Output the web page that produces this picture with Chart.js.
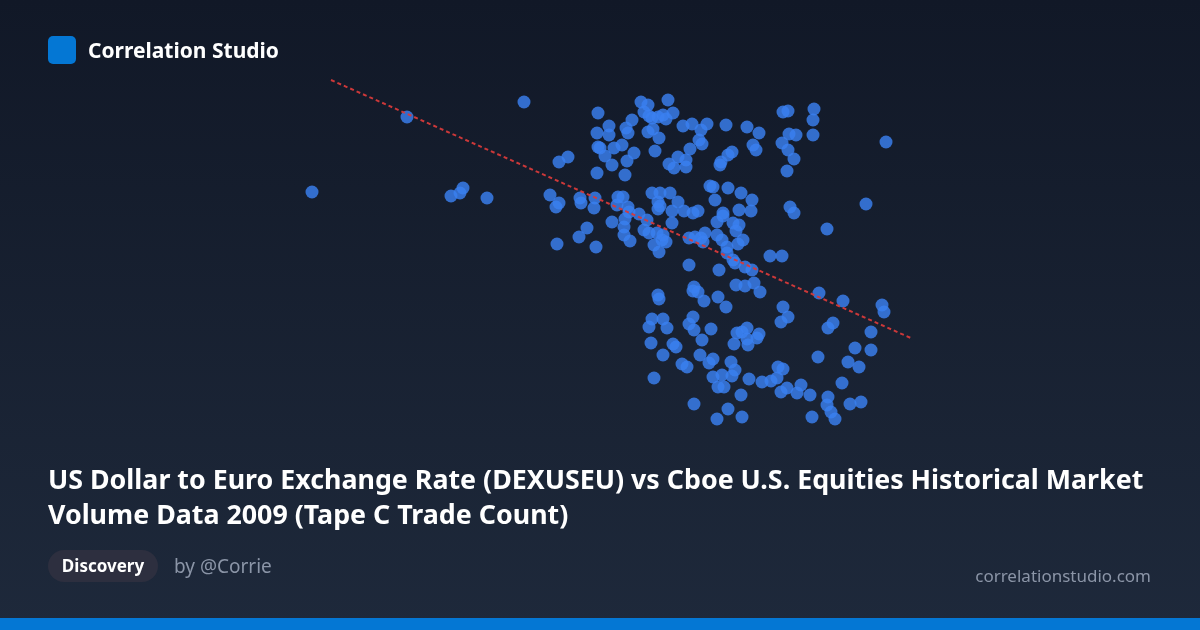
<!DOCTYPE html>
<html>
<head>
<meta charset="utf-8">
<script src="https://cdn.jsdelivr.net/npm/chart.js@4.4.1/dist/chart.umd.min.js"></script>
<style>
  html, body { margin: 0; padding: 0; }
  body {
    width: 1200px; height: 630px; overflow: hidden; position: relative;
    background: linear-gradient(180deg, #111827 0%, #1e293b 100%);
    font-family: "Noto Sans", "Open Sans", sans-serif;
  }
  #chart { position: absolute; left: 0; top: 0; }
  .logo { position: absolute; left: 48px; top: 36px; width: 28px; height: 28px; border-radius: 5px; background: #0477d4; }
  .brand { position: absolute; left: 88px; top: 36px; line-height: 28px; font-size: 21px; font-weight: 700; color: #fff; }
  .title { position: absolute; left: 48px; top: 461px; width: 1130px; font-size: 26.8px; line-height: 35px; font-weight: 700; color: #fff; }
  .pill { position: absolute; left: 48px; top: 550px; width: 110px; height: 32px; border-radius: 16px; background: #2d2f3f;
          color: #fff; font-size: 17px; font-weight: 700; line-height: 32px; text-align: center; }
  .by { position: absolute; left: 174px; top: 550px; line-height: 32px; font-size: 19px; color: #8b95a7; }
  .site { position: absolute; right: 49px; top: 562px; line-height: 28px; font-size: 17px; color: #8b95a7; }
  .bar { position: absolute; left: 0; bottom: 0; width: 1200px; height: 12px; background: #0477d4; }
</style>
</head>
<body>
<canvas id="chart" width="1200" height="630"></canvas>
<div class="logo"></div>
<div class="brand">Correlation Studio</div>
<div class="title">US Dollar to Euro Exchange Rate (DEXUSEU) vs Cboe U.S. Equities Historical Market Volume Data 2009 (Tape C Trade Count)</div>
<div class="pill">Discovery</div>
<div class="by">by @Corrie</div>
<div class="site">correlationstudio.com</div>
<div class="bar"></div>
<script>
// DEXUSEU daily rate (x) vs Tape C trade count, millions (y)
const rates = [
  1.256, 1.3035, 1.362, 1.3255, 1.330, 1.3315, 1.3435, 1.375, 1.3795, 1.384,
  1.3795, 1.378, 1.390, 1.3905, 1.3975, 1.397, 1.3935, 1.3895, 1.3785, 1.398,
  1.399, 1.3985, 1.399, 1.3985, 1.4205, 1.424, 1.434, 1.422, 1.4245, 1.426,
  1.429, 1.4315, 1.433, 1.4365, 1.4045, 1.4045, 1.413, 1.414, 1.416, 1.424,
  1.4265, 1.4295, 1.4415, 1.446, 1.4535, 1.463, 1.4505, 1.4495, 1.451, 1.400,
  1.407, 1.411, 1.4025, 1.406, 1.4135, 1.417, 1.4275, 1.445, 1.439, 1.443,
  1.443, 1.4345, 1.437, 1.4125, 1.460, 1.4605, 1.464, 1.455, 1.4565, 1.464,
  1.409, 1.4115, 1.426, 1.430, 1.435, 1.4735, 1.4795, 1.4765, 1.478, 1.466,
  1.4915, 1.494, 1.507, 1.5065, 1.5065, 1.4945, 1.498, 1.491, 1.494, 1.497,
  1.4935, 1.543, 1.4705, 1.4575, 1.476, 1.4085, 1.414, 1.4145, 1.4195, 1.4235,
  1.429, 1.430, 1.429, 1.439, 1.436, 1.442, 1.4465, 1.449, 1.4615, 1.4615,
  1.4585, 1.4125, 1.412, 1.406, 1.412, 1.415, 1.422, 1.4245, 1.4285, 1.4315,
  1.431, 1.433, 1.427, 1.4295, 1.436, 1.4445, 1.4475, 1.4505, 1.4525, 1.4515,
  1.4585, 1.461, 1.4635, 1.4635, 1.4445, 1.4595, 1.4755, 1.4695, 1.4665, 1.4695,
  1.468, 1.495, 1.497, 1.533, 1.5135, 1.4715, 1.469, 1.4665, 1.4675, 1.485,
  1.491, 1.4725, 1.476, 1.447, 1.4465, 1.449, 1.452, 1.459, 1.463, 1.468,
  1.4725, 1.477, 1.480, 1.429, 1.4295, 1.426, 1.4315, 1.4245, 1.4335, 1.4465,
  1.4445, 1.447, 1.4555, 1.451, 1.4255, 1.4365, 1.438, 1.4685, 1.471, 1.4735,
  1.4795, 1.4785, 1.467, 1.4735, 1.474, 1.5095, 1.5215, 1.541, 1.542, 1.4915,
  1.494, 1.4905, 1.5165, 1.514, 1.5355, 1.5275, 1.5355, 1.4315, 1.441, 1.4435,
  1.450, 1.4565, 1.4545, 1.4655, 1.4675, 1.466, 1.4565, 1.461, 1.459, 1.462,
  1.4705, 1.4745, 1.481, 1.4855, 1.4885, 1.489, 1.427, 1.447, 1.464, 1.4585,
  1.471, 1.509, 1.524, 1.5295, 1.4915, 1.4935, 1.4905, 1.5005, 1.4985, 1.505,
  1.521, 1.514, 1.5135, 1.5155, 1.5175, 1.506, 1.5305, 1.525
];
const tradeCounts = [
  4.58, 5.33, 5.48, 4.54, 4.57, 4.62, 4.52, 4.55, 4.88, 4.93,
  4.47, 4.43, 4.52, 4.47, 4.52, 4.42, 4.22, 4.13, 4.06, 4.03,
  5.37, 5.17, 5.03, 4.77, 5.48, 5.45, 5.50, 5.38, 5.34, 5.32,
  5.33, 5.35, 5.31, 5.37, 5.24, 5.15, 5.22, 5.17, 5.30, 5.18,
  5.21, 5.12, 5.24, 5.26, 5.26, 5.25, 5.20, 5.10, 5.06, 5.02,
  5.02, 5.05, 4.94, 4.85, 4.89, 4.97, 4.99, 5.01, 4.93, 4.90,
  4.83, 4.86, 4.82, 4.75, 4.85, 4.88, 4.95, 4.64, 4.63, 4.62,
  4.53, 4.53, 4.57, 4.57, 4.57, 5.23, 5.17, 5.05, 5.00, 4.98,
  5.38, 5.39, 5.41, 5.30, 5.15, 5.16, 5.15, 5.07, 5.00, 4.91,
  4.79, 5.08, 4.57, 4.50, 4.50, 4.45, 4.43, 4.38, 4.36, 4.30,
  4.48, 4.44, 4.41, 4.48, 4.39, 4.39, 4.37, 4.39, 4.37, 4.34,
  4.28, 4.31, 4.23, 4.28, 4.15, 4.09, 4.20, 4.17, 4.17, 4.15,
  4.10, 4.08, 4.05, 3.98, 4.27, 4.12, 4.13, 4.12, 4.17, 4.08,
  4.15, 4.10, 4.03, 3.97, 3.85, 3.80, 4.39, 4.40, 4.27, 4.25,
  4.19, 4.43, 4.37, 4.46, 4.21, 4.10, 4.06, 3.90, 3.87, 3.94,
  3.94, 3.83, 3.80, 3.63, 3.59, 3.58, 3.49, 3.53, 3.43, 3.65,
  3.64, 3.67, 3.58, 3.55, 3.51, 3.31, 3.31, 3.23, 3.22, 3.33,
  3.26, 3.20, 3.21, 3.10, 3.07, 3.06, 3.03, 3.17, 3.18, 3.22,
  3.16, 3.12, 3.06, 3.11, 3.05, 3.57, 3.49, 3.45, 3.38, 3.43,
  3.33, 3.28, 3.27, 3.22, 3.18, 3.02, 3.00, 2.95, 2.86, 2.83,
  2.95, 2.91, 2.87, 2.88, 2.80, 2.74, 2.73, 2.75, 2.63, 2.63,
  2.55, 2.71, 2.68, 2.69, 2.72, 2.83, 2.72, 2.46, 2.41, 2.31,
  2.33, 2.93, 2.88, 2.83, 2.81, 2.62, 2.58, 2.65, 2.57, 2.55,
  2.67, 2.53, 2.45, 2.38, 2.31, 2.33, 2.48, 2.46
];
// fitted trend line end points
const trendX = [1.2655, 1.5565];
const trendY = [5.70, 3.11];

const points = rates.map((r, i) => ({ x: r, y: tradeCounts[i] }));
const trend = trendX.map((r, i) => ({ x: r, y: trendY[i] }));

const ctx = document.getElementById('chart').getContext('2d');
new Chart(ctx, {
  type: 'scatter',
  data: {
    datasets: [{
      data: points,
      backgroundColor: 'rgba(59, 128, 240, 0.82)',
      borderWidth: 0,
      pointRadius: 6.5,
      order: 2
    }, {
      type: 'line',
      data: trend,
      borderColor: 'rgba(214, 58, 58, 0.95)',
      borderWidth: 2,
      borderDash: [4, 3],
      pointRadius: 0,
      fill: false,
      order: 1
    }]
  },
  options: {
    responsive: false,
    devicePixelRatio: 1,
    animation: false,
    layout: { padding: 0, autoPadding: false },
    plugins: { legend: { display: false }, tooltip: { enabled: false } },
    scales: {
      x: { type: 'linear', display: false, min: 1.1, max: 1.7 },
      y: { type: 'linear', display: false, min: 0.2, max: 6.5 }
    }
  }
});
</script>
</body>
</html>
